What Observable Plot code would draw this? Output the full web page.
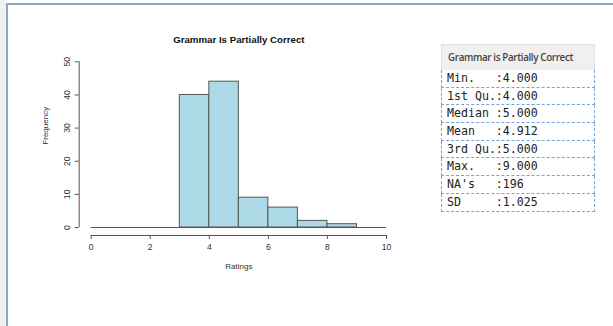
<!DOCTYPE html>
<html>
<head>
<meta charset="utf-8">
<script src="https://cdn.jsdelivr.net/npm/d3@7"></script>
<script src="https://cdn.jsdelivr.net/npm/@observablehq/plot@0.6"></script>
<style>
  html, body { margin: 0; padding: 0; width: 613px; height: 326px; overflow: hidden; background: #ffffff; }
  #strip { position: absolute; left: 0; top: 0; width: 6px; height: 326px; background: #f1f1f1; }
  #frame { position: absolute; left: 6px; top: 3px; width: 607px; height: 330px; border-left: 2px solid #8ea7c0; border-top: 2px solid #8ea7c0; background: #fff; box-sizing: border-box; }
  #chart { position: absolute; left: 0; top: 0; }
  #chart svg { background: transparent; }
  #tbl { position: absolute; left: 441px; top: 44px; width: 154px; }
  #tbl .hd { height: 26px; background: #f0f0f0; border: 1px solid #e2e2e2; border-bottom: none; box-sizing: border-box;
    font-family: "Open Sans", sans-serif; font-weight: 600; font-size: 9.8px; letter-spacing: -0.35px; color: #444;
    line-height: 26px; padding-left: 6px; white-space: nowrap; }
  #tbl .row { height: 17.7px; box-sizing: border-box; border: 1px dashed #78a4dc; border-top: none;
    font-family: "DejaVu Sans Mono", monospace; font-size: 11.6px; color: #222; line-height: 17px; padding-left: 5px; white-space: pre; }
  #tbl .row:first-of-type { border-top: 1px dashed #78a4dc; }
</style>
</head>
<body>
<div id="strip"></div>
<div id="frame"></div>
<div id="chart"></div>
<div id="tbl"></div>
<script>
// Histogram data (bins of width 1 from 0 to 10)
const binStarts = [0, 1, 2, 3, 4, 5, 6, 7, 8, 9];
const binEnds   = [1, 2, 3, 4, 5, 6, 7, 8, 9, 10];
const counts    = [0, 0, 0, 40, 44, 9, 6, 2, 1, 0];
const xTicks = [0, 2, 4, 6, 8, 10];
const yTicks = [0, 10, 20, 30, 40, 50];
const chartTitle = "Grammar Is Partially Correct";
const xLabel = "Ratings";
const yLabel = "Frequency";

// Summary table
const tableTitle = "Grammar is Partially Correct";
const statLabels = ["Min.   ", "1st Qu.", "Median ", "Mean   ", "3rd Qu.", "Max.   ", "NA's   ", "SD     "];
const statValues = ["4.000", "4.000", "5.000", "4.912", "5.000", "9.000", "196", "1.025"];

const bins = binStarts.map((s, i) => ({x1: s, x2: binEnds[i], count: counts[i]}));

const axisColor = "#555";
const plot = Plot.plot({
  width: 430,
  height: 300,
  marginLeft: 90.7,
  marginRight: 44,
  marginTop: 61.3,
  marginBottom: 73,
  style: {fontFamily: "'Liberation Sans', Arial, sans-serif", background: "transparent", color: "#333"},
  x: {domain: [0, 10], label: null},
  y: {domain: [0, 50], label: null},
  marks: [
    Plot.rectY(bins.filter(d => d.count > 0), {x1: "x1", x2: "x2", y: "count", fill: "#add8e6", stroke: "#555", strokeWidth: 1}),
    Plot.ruleY([0], {x1: 0, x2: 10, stroke: "#555", strokeWidth: 1}),
    // y axis (offset left, R style)
    Plot.ruleX([0], {y1: 0, y2: 50, dx: -12, stroke: axisColor}),
    Plot.axisY({ticks: yTicks, tickSize: 4, dx: -12, tickRotate: -90, tickPadding: 5, fontSize: 8.6, stroke: axisColor, fill: "#333", label: null}),
    // x axis (offset down)
    Plot.ruleY([0], {x1: 0, x2: 10, dy: 8, stroke: axisColor}),
    Plot.axisX({ticks: xTicks, tickSize: 4, dy: 8, tickPadding: 4.5, fontSize: 8.6, stroke: axisColor, fill: "#333", label: null}),
    Plot.text([chartTitle], {frameAnchor: "top", dy: -26, text: d => d, fontWeight: "bold", fontSize: 9.7, fill: "#111"}),
    Plot.text([xLabel], {frameAnchor: "bottom", dy: 41, text: d => d, fontSize: 8, fill: "#333"}),
    Plot.text([yLabel], {frameAnchor: "left", dx: -45.7, rotate: -90, text: d => d, fontSize: 8, fill: "#333"})
  ]
});
document.getElementById("chart").appendChild(plot);

const tbl = document.getElementById("tbl");
const hd = document.createElement("div");
hd.className = "hd";
hd.textContent = tableTitle;
tbl.appendChild(hd);
statLabels.forEach((lab, i) => {
  const r = document.createElement("div");
  r.className = "row";
  r.textContent = lab + ":" + statValues[i];
  tbl.appendChild(r);
});
</script>
</body>
</html>
